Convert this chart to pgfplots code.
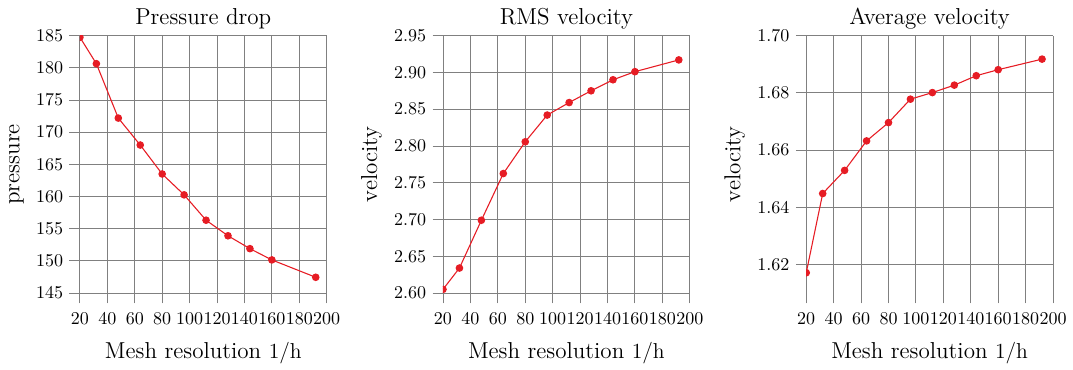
\documentclass[border=0pt]{standalone}
\usepackage{pgfplots}
\pgfplotsset{compat=1.18}
\definecolor{myred}{RGB}{230,28,36}
\pgfplotsset{
  myaxis/.style={
    scale only axis,
    width=137.1pt, height=143pt,
    xmin=20, xmax=200,
    xtick={20,40,...,200},
    grid=major,
    grid style={gray, line width=0.5pt},
    axis line style={draw=none},
    tick align=outside,
    tick pos=left,
    major tick length=5.8pt,
    major tick style={gray, line width=0.5pt},
    clip marker paths=true,
    title style={font=\fontsize{12.8}{15}\selectfont, yshift=-6pt},
    label style={font=\fontsize{12.8}{15}\selectfont},
    xlabel style={yshift=-3pt},
    xticklabel style={yshift=-1.5pt},
    xlabel={Mesh resolution $1/\mathrm{h}$},
    anchor=south west,
  },
  myplot/.style={color=myred, line width=0.6pt, mark=*, mark size=1.8pt, mark options={fill=myred, draw=myred}},
}
\begin{document}
\begin{tikzpicture}
\path (-44.4pt,-39.4pt) rectangle (551.7pt,162.8pt);
\begin{axis}[myaxis, at={(0pt,0pt)},
  title={Pressure drop}, ylabel={pressure},
  ymin=145, ymax=185, ytick={145,150,...,185}]
\addplot[myplot] coordinates {
(20,184.74) (32,180.64) (48,172.19) (64,168.0) (80,163.5) (96,160.26)
(112,156.32) (128,153.9) (144,151.9) (160,150.15) (192,147.45)};
\end{axis}
\begin{axis}[myaxis, at={(201.7pt,0pt)},
  title={RMS velocity}, ylabel={velocity},
  ymin=2.60, ymax=2.95, ytick={2.60,2.65,...,2.96},
  yticklabel style={/pgf/number format/.cd, fixed, fixed zerofill, precision=2}]
\addplot[myplot] coordinates {
(20,2.605) (32,2.634) (48,2.699) (64,2.7625) (80,2.8057) (96,2.842)
(112,2.859) (128,2.875) (144,2.890) (160,2.901) (192,2.917)};
\end{axis}
\begin{axis}[myaxis, at={(403.5pt,0pt)},
  title={Average velocity}, ylabel={velocity},
  ymin=1.61, ymax=1.70, ytick={1.62,1.64,1.66,1.68,1.70},
  yticklabel style={/pgf/number format/.cd, fixed, fixed zerofill, precision=2}]
\addplot[myplot] coordinates {
(20,1.6171) (32,1.6448) (48,1.6529) (64,1.6632) (80,1.6696) (96,1.6778)
(112,1.6801) (128,1.6827) (144,1.6860) (160,1.6881) (192,1.6918)};
\end{axis}
\end{tikzpicture}
\end{document}
